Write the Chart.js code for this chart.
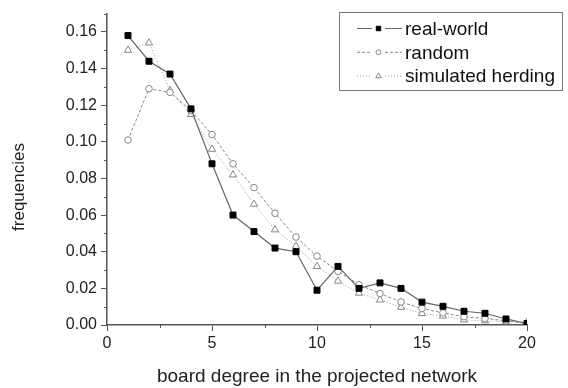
<!DOCTYPE html>
<html>
<head>
<meta charset="utf-8">
<script src="https://cdn.jsdelivr.net/npm/chart.js@4"></script>
<style>
  html, body { margin: 0; padding: 0; background: #fff; }
  #wrap { width: 568px; height: 388px; }
</style>
</head>
<body>
<div id="wrap"><canvas id="degreeChart" width="568" height="388"></canvas></div>
<script>
// board degree values on the x axis
const degrees = [1, 2, 3, 4, 5, 6, 7, 8, 9, 10, 11, 12, 13, 14, 15, 16, 17, 18, 19, 20];

// frequencies
const realWorld = [0.158, 0.144, 0.137, 0.118, 0.088, 0.060, 0.051, 0.042, 0.040, 0.019,
                   0.032, 0.020, 0.023, 0.020, 0.0125, 0.0102, 0.0075, 0.0064, 0.0033, 0.0008];
const randomNet = [0.101, 0.129, 0.127, 0.117, 0.104, 0.088, 0.075, 0.061, 0.048, 0.0376,
                   0.0293, 0.022, 0.0172, 0.0126, 0.009, 0.0066, 0.0045, 0.0036, 0.0023, 0.0008];
const herding   = [0.150, 0.154, 0.128, 0.115, 0.096, 0.082, 0.066, 0.052, 0.043, 0.032,
                   0.024, 0.0174, 0.0137, 0.0097, 0.0063, 0.0049, 0.0028, 0.0023, 0.0018, 0.0015];

const seriesNames = ['real-world', 'random', 'simulated herding'];
const xTickLabels = [0, 5, 10, 15, 20];
const yTickLabels = [0.00, 0.02, 0.04, 0.06, 0.08, 0.10, 0.12, 0.14, 0.16];

const FONT = '"Liberation Sans", Arial, Helvetica, sans-serif';
const INK = '#222';
const AXIS = '#555';

function toPoints(values) {
  return values.map((v, i) => ({ x: degrees[i], y: v }));
}

const isMajorX = v => xTickLabels.some(t => Math.abs(t - v) < 1e-6);
const isMajorY = v => yTickLabels.some(t => Math.abs(t - v) < 1e-6);

// shorter minor ticks, legend box and axis titles
const extras = {
  id: 'extras',
  afterDraw(chart) {
    const ctx = chart.ctx;
    const xs = chart.scales.x, ys = chart.scales.y;
    const area = chart.chartArea;
    ctx.save();
    ctx.strokeStyle = AXIS;
    ctx.lineWidth = 1;
    xs.ticks.forEach(t => {
      if (isMajorX(t.value)) return;
      const px = Math.round(xs.getPixelForValue(t.value)) + 0.5;
      ctx.beginPath(); ctx.moveTo(px, area.bottom); ctx.lineTo(px, area.bottom + 3); ctx.stroke();
    });
    ys.ticks.forEach(t => {
      if (isMajorY(t.value)) return;
      const py = Math.round(ys.getPixelForValue(t.value)) + 0.5;
      ctx.beginPath(); ctx.moveTo(area.left, py); ctx.lineTo(area.left - 3, py); ctx.stroke();
    });

    // axis titles
    ctx.fillStyle = INK;
    ctx.font = '19px ' + FONT;
    ctx.textAlign = 'center';
    ctx.textBaseline = 'alphabetic';
    ctx.fillText('board degree in the projected network', (area.left + area.right) / 2, 382);
    ctx.save();
    ctx.translate(24, 187);
    ctx.rotate(-Math.PI / 2);
    ctx.font = '17px ' + FONT;
    ctx.fillText('frequencies', 0, 0);
    ctx.restore();

    // legend
    const box = { l: 339.5, t: 12.5, r: 562.5, b: 90.5 };
    ctx.fillStyle = '#fff';
    ctx.fillRect(box.l, box.t, box.r - box.l, box.b - box.t);
    ctx.strokeStyle = '#777';
    ctx.strokeRect(box.l, box.t, box.r - box.l, box.b - box.t);
    chart.data.datasets.forEach((ds, i) => {
      const y = 28.5 + i * 23.8;
      ctx.save();
      ctx.strokeStyle = ds.borderColor;
      ctx.lineWidth = 1;
      ctx.setLineDash(ds.borderDash || []);
      ctx.beginPath(); ctx.moveTo(357, y); ctx.lineTo(372, y); ctx.stroke();
      ctx.beginPath(); ctx.moveTo(385, y); ctx.lineTo(402, y); ctx.stroke();
      ctx.setLineDash([]);
      ctx.fillStyle = ds.pointBackgroundColor;
      ctx.strokeStyle = ds.pointBorderColor;
      ctx.lineWidth = 1;
      Chart.helpers.drawPoint(ctx, { pointStyle: ds.pointStyle, radius: ds.pointRadius * 0.75, borderWidth: 1, rotation: 0 }, 378.5, y);
      ctx.restore();
      ctx.fillStyle = '#111';
      ctx.font = '19px ' + FONT;
      ctx.textAlign = 'left';
      ctx.textBaseline = 'middle';
      ctx.fillText(seriesNames[i], 405, y + 1);
    });
    ctx.restore();
  }
};

new Chart(document.getElementById('degreeChart'), {
  type: 'line',
  data: {
    datasets: [
      {
        label: seriesNames[0],
        data: toPoints(realWorld),
        borderColor: '#666',
        borderWidth: 1.2,
        pointStyle: 'rect',
        pointRadius: 4.2,
        pointBackgroundColor: '#000',
        pointBorderColor: '#000',
        pointBorderWidth: 1
      },
      {
        label: seriesNames[1],
        data: toPoints(randomNet),
        borderColor: '#888',
        borderWidth: 1,
        borderDash: [3, 2],
        pointStyle: 'circle',
        pointRadius: 3.3,
        pointBackgroundColor: '#fff',
        pointBorderColor: '#888',
        pointBorderWidth: 1
      },
      {
        label: seriesNames[2],
        data: toPoints(herding),
        borderColor: '#999',
        borderWidth: 1,
        borderDash: [1, 2],
        pointStyle: 'triangle',
        pointRadius: 4.2,
        pointBackgroundColor: '#fff',
        pointBorderColor: '#888',
        pointBorderWidth: 1
      }
    ]
  },
  options: {
    responsive: false,
    animation: false,
    devicePixelRatio: 1,
    layout: { padding: { top: 9, right: 41, left: 0, bottom: 0 } },
    plugins: { legend: { display: false }, tooltip: { enabled: false } },
    scales: {
      x: {
        type: 'linear',
        min: 0,
        max: 20,
        afterFit: s => { s.height = 63; },
        border: { display: true, color: AXIS, width: 1.5 },
        grid: {
          drawOnChartArea: false,
          tickLength: 6,
          tickColor: c => (c.tick && isMajorX(c.tick.value)) ? AXIS : 'rgba(0,0,0,0)'
        },
        ticks: {
          stepSize: 2.5,
          autoSkip: false,
          maxRotation: 0,
          padding: 3,
          color: INK,
          font: { family: FONT, size: 16 },
          callback: v => isMajorX(v) ? String(v) : ''
        }
      },
      y: {
        min: 0,
        max: 0.17,
        afterFit: s => { s.width = 107; },
        border: { display: true, color: AXIS, width: 1.5 },
        grid: {
          drawOnChartArea: false,
          tickLength: 6,
          tickColor: c => (c.tick && isMajorY(c.tick.value)) ? AXIS : 'rgba(0,0,0,0)'
        },
        ticks: {
          stepSize: 0.01,
          autoSkip: false,
          padding: 4,
          color: INK,
          font: { family: FONT, size: 16 },
          callback: v => isMajorY(v) ? v.toFixed(2) : ''
        }
      }
    }
  },
  plugins: [extras]
});
</script>
</body>
</html>
